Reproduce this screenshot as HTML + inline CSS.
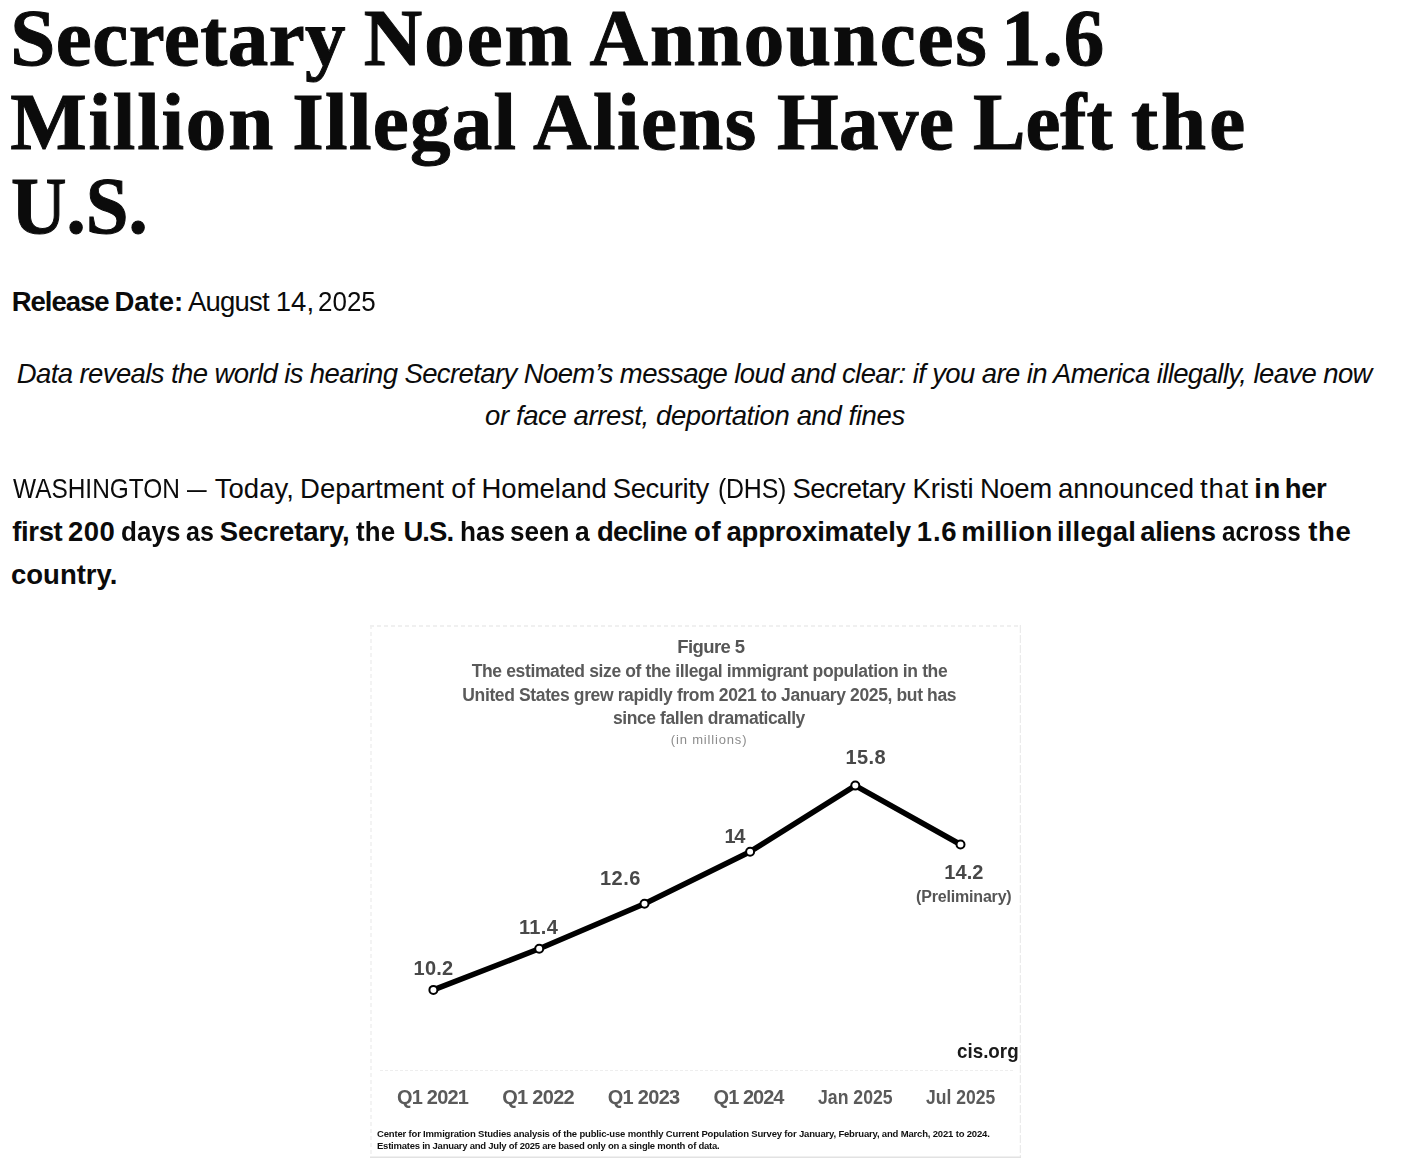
<!DOCTYPE html>
<html><head><meta charset="utf-8">
<style>
html,body{margin:0;padding:0;background:#fff;width:1402px;height:1164px;overflow:hidden;position:relative}
.l{position:absolute;white-space:nowrap}
b{font-weight:bold}
#chart{position:absolute;left:0;top:0;width:1402px;height:1164px;filter:blur(0.35px)}
</style></head><body>
<div class="l" style='left:10.3px;top:-4.2px;font-family:"Liberation Serif",serif;font-weight:bold;font-style:normal;font-size:81px;line-height:84px;letter-spacing:0.5px;color:#0b0b0b;-webkit-text-stroke:1.0px #0b0b0b'>Secretary</div>
<div class="l" style='left:363.8px;top:-4.2px;font-family:"Liberation Serif",serif;font-weight:bold;font-style:normal;font-size:81px;line-height:84px;letter-spacing:1.933px;color:#0b0b0b;-webkit-text-stroke:1.0px #0b0b0b'>Noem</div>
<div class="l" style='left:589.6px;top:-4.2px;font-family:"Liberation Serif",serif;font-weight:bold;font-style:normal;font-size:81px;line-height:84px;letter-spacing:1.825px;color:#0b0b0b;-webkit-text-stroke:1.0px #0b0b0b'>Announces</div>
<div class="l" style='left:1001.1px;top:-4.2px;font-family:"Liberation Serif",serif;font-weight:bold;font-style:normal;font-size:81px;line-height:84px;letter-spacing:0.9px;color:#0b0b0b;-webkit-text-stroke:1.0px #0b0b0b'>1.6</div>
<div class="l" style='left:10.2px;top:79.9px;font-family:"Liberation Serif",serif;font-weight:bold;font-style:normal;font-size:81px;line-height:84px;letter-spacing:1.833px;color:#0b0b0b;-webkit-text-stroke:1.0px #0b0b0b'>Million</div>
<div class="l" style='left:292.3px;top:79.9px;font-family:"Liberation Serif",serif;font-weight:bold;font-style:normal;font-size:81px;line-height:84px;letter-spacing:1.3px;color:#0b0b0b;-webkit-text-stroke:1.0px #0b0b0b'>Illegal</div>
<div class="l" style='left:533.0px;top:79.9px;font-family:"Liberation Serif",serif;font-weight:bold;font-style:normal;font-size:81px;line-height:84px;letter-spacing:1.46px;color:#0b0b0b;-webkit-text-stroke:1.0px #0b0b0b'>Aliens</div>
<div class="l" style='left:776.7px;top:79.9px;font-family:"Liberation Serif",serif;font-weight:bold;font-style:normal;font-size:81px;line-height:84px;letter-spacing:0.333px;color:#0b0b0b;-webkit-text-stroke:1.0px #0b0b0b;transform:scaleX(0.9775);transform-origin:0 0'>Have</div>
<div class="l" style='left:973.0px;top:79.9px;font-family:"Liberation Serif",serif;font-weight:bold;font-style:normal;font-size:81px;line-height:84px;letter-spacing:0.0px;color:#0b0b0b;-webkit-text-stroke:1.0px #0b0b0b;transform:scaleX(0.9699);transform-origin:0 0'>Left</div>
<div class="l" style='left:1131.0px;top:79.9px;font-family:"Liberation Serif",serif;font-weight:bold;font-style:normal;font-size:81px;line-height:84px;letter-spacing:3.15px;color:#0b0b0b;-webkit-text-stroke:1.0px #0b0b0b'>the</div>
<div class="l" style='left:11.4px;top:164.0px;font-family:"Liberation Serif",serif;font-weight:bold;font-style:normal;font-size:81px;line-height:84px;letter-spacing:0.0px;color:#0b0b0b;-webkit-text-stroke:1.0px #0b0b0b;transform:scaleX(0.9493);transform-origin:0 0'>U.S.</div>
<div class="l" style='left:16.8px;top:358.6px;font-family:"Liberation Sans",sans-serif;font-weight:normal;font-style:italic;font-size:27.5px;line-height:30px;letter-spacing:-0.603px;color:#0b0b0b'>Data reveals the world is hearing Secretary Noem’s message loud and clear: if you are in America illegally, leave now</div>
<div class="l" style='left:485.0px;top:400.7px;font-family:"Liberation Sans",sans-serif;font-weight:normal;font-style:italic;font-size:27.5px;line-height:30px;letter-spacing:-0.389px;color:#0b0b0b'>or face arrest, deportation and fines</div>
<div class="l" style='left:11.0px;top:559.9px;font-family:"Liberation Sans",sans-serif;font-weight:bold;font-style:normal;font-size:27.5px;line-height:30px;letter-spacing:0.0px;color:#0b0b0b'>country.</div>
<div class="l" style='left:11.7px;top:286.8px;font-family:"Liberation Sans",sans-serif;font-weight:normal;font-style:normal;font-size:27.5px;line-height:30px;letter-spacing:-1.0px;color:#0b0b0b'><b>Release</b></div>
<div class="l" style='left:114.4px;top:286.8px;font-family:"Liberation Sans",sans-serif;font-weight:normal;font-style:normal;font-size:27.5px;line-height:30px;letter-spacing:0.0px;color:#0b0b0b'><b>Date:</b></div>
<div class="l" style='left:188.0px;top:286.8px;font-family:"Liberation Sans",sans-serif;font-weight:normal;font-style:normal;font-size:27.5px;line-height:30px;letter-spacing:-0.78px;color:#0b0b0b'>August</div>
<div class="l" style='left:275.8px;top:286.8px;font-family:"Liberation Sans",sans-serif;font-weight:normal;font-style:normal;font-size:27.5px;line-height:30px;letter-spacing:0.0px;color:#0b0b0b'>14,</div>
<div class="l" style='left:317.9px;top:286.8px;font-family:"Liberation Sans",sans-serif;font-weight:normal;font-style:normal;font-size:27.5px;line-height:30px;letter-spacing:0.0px;color:#0b0b0b;transform:scaleX(0.9441);transform-origin:0 0'>2025</div>
<div class="l" style='left:12.5px;top:473.8px;font-family:"Liberation Sans",sans-serif;font-weight:normal;font-style:normal;font-size:27.5px;line-height:30px;letter-spacing:0.0px;color:#0b0b0b;transform:scaleX(0.8882);transform-origin:0 0'>WASHINGTON</div>
<div class="l" style='left:187.0px;top:473.8px;font-family:"Liberation Sans",sans-serif;font-weight:normal;font-style:normal;font-size:27.5px;line-height:30px;letter-spacing:0.0px;color:#0b0b0b;transform:scaleX(0.7143);transform-origin:0 0'>—</div>
<div class="l" style='left:214.7px;top:473.8px;font-family:"Liberation Sans",sans-serif;font-weight:normal;font-style:normal;font-size:27.5px;line-height:30px;letter-spacing:0.04px;color:#0b0b0b'>Today,</div>
<div class="l" style='left:300.0px;top:473.8px;font-family:"Liberation Sans",sans-serif;font-weight:normal;font-style:normal;font-size:27.5px;line-height:30px;letter-spacing:0.021px;color:#0b0b0b'>Department</div>
<div class="l" style='left:451.3px;top:473.8px;font-family:"Liberation Sans",sans-serif;font-weight:normal;font-style:normal;font-size:27.5px;line-height:30px;letter-spacing:0.6px;color:#0b0b0b'>of</div>
<div class="l" style='left:481.5px;top:473.8px;font-family:"Liberation Sans",sans-serif;font-weight:normal;font-style:normal;font-size:27.5px;line-height:30px;letter-spacing:0.0px;color:#0b0b0b'>Homeland</div>
<div class="l" style='left:612.7px;top:473.8px;font-family:"Liberation Sans",sans-serif;font-weight:normal;font-style:normal;font-size:27.5px;line-height:30px;letter-spacing:-0.4px;color:#0b0b0b'>Security</div>
<div class="l" style='left:717.6px;top:473.8px;font-family:"Liberation Sans",sans-serif;font-weight:normal;font-style:normal;font-size:27.5px;line-height:30px;letter-spacing:-0.225px;color:#0b0b0b;transform:scaleX(0.9055);transform-origin:0 0'>(DHS)</div>
<div class="l" style='left:792.5px;top:473.8px;font-family:"Liberation Sans",sans-serif;font-weight:normal;font-style:normal;font-size:27.5px;line-height:30px;letter-spacing:-0.588px;color:#0b0b0b'>Secretary</div>
<div class="l" style='left:912.4px;top:473.8px;font-family:"Liberation Sans",sans-serif;font-weight:normal;font-style:normal;font-size:27.5px;line-height:30px;letter-spacing:0.0px;color:#0b0b0b'>Kristi</div>
<div class="l" style='left:979.9px;top:473.8px;font-family:"Liberation Sans",sans-serif;font-weight:normal;font-style:normal;font-size:27.5px;line-height:30px;letter-spacing:-0.4px;color:#0b0b0b'>Noem</div>
<div class="l" style='left:1057.9px;top:473.8px;font-family:"Liberation Sans",sans-serif;font-weight:normal;font-style:normal;font-size:27.5px;line-height:30px;letter-spacing:0.0px;color:#0b0b0b'>announced</div>
<div class="l" style='left:1200.1px;top:473.8px;font-family:"Liberation Sans",sans-serif;font-weight:normal;font-style:normal;font-size:27.5px;line-height:30px;letter-spacing:0.7px;color:#0b0b0b'>that</div>
<div class="l" style='left:1254.3px;top:473.8px;font-family:"Liberation Sans",sans-serif;font-weight:normal;font-style:normal;font-size:27.5px;line-height:30px;letter-spacing:1.6px;color:#0b0b0b'><b>in</b></div>
<div class="l" style='left:1284.8px;top:473.8px;font-family:"Liberation Sans",sans-serif;font-weight:normal;font-style:normal;font-size:27.5px;line-height:30px;letter-spacing:-0.45px;color:#0b0b0b'><b>her</b></div>
<div class="l" style='left:12.2px;top:516.6px;font-family:"Liberation Sans",sans-serif;font-weight:bold;font-style:normal;font-size:27.5px;line-height:30px;letter-spacing:-0.35px;color:#0b0b0b'>first</div>
<div class="l" style='left:68.0px;top:516.6px;font-family:"Liberation Sans",sans-serif;font-weight:bold;font-style:normal;font-size:27.5px;line-height:30px;letter-spacing:0.5px;color:#0b0b0b'>200</div>
<div class="l" style='left:121.0px;top:516.6px;font-family:"Liberation Sans",sans-serif;font-weight:bold;font-style:normal;font-size:27.5px;line-height:30px;letter-spacing:0.033px;color:#0b0b0b;transform:scaleX(0.9459);transform-origin:0 0'>days</div>
<div class="l" style='left:186.0px;top:516.6px;font-family:"Liberation Sans",sans-serif;font-weight:bold;font-style:normal;font-size:27.5px;line-height:30px;letter-spacing:0.2px;color:#0b0b0b;transform:scaleX(0.9103);transform-origin:0 0'>as</div>
<div class="l" style='left:219.8px;top:516.6px;font-family:"Liberation Sans",sans-serif;font-weight:bold;font-style:normal;font-size:27.5px;line-height:30px;letter-spacing:-0.112px;color:#0b0b0b'>Secretary,</div>
<div class="l" style='left:356.3px;top:516.6px;font-family:"Liberation Sans",sans-serif;font-weight:bold;font-style:normal;font-size:27.5px;line-height:30px;letter-spacing:0.25px;color:#0b0b0b;transform:scaleX(0.939);transform-origin:0 0'>the</div>
<div class="l" style='left:403.4px;top:516.6px;font-family:"Liberation Sans",sans-serif;font-weight:bold;font-style:normal;font-size:27.5px;line-height:30px;letter-spacing:-0.933px;color:#0b0b0b'>U.S.</div>
<div class="l" style='left:460.2px;top:516.6px;font-family:"Liberation Sans",sans-serif;font-weight:bold;font-style:normal;font-size:27.5px;line-height:30px;letter-spacing:0.0px;color:#0b0b0b;transform:scaleX(0.95);transform-origin:0 0'>has</div>
<div class="l" style='left:510.3px;top:516.6px;font-family:"Liberation Sans",sans-serif;font-weight:bold;font-style:normal;font-size:27.5px;line-height:30px;letter-spacing:0.0px;color:#0b0b0b;transform:scaleX(0.9467);transform-origin:0 0'>seen</div>
<div class="l" style='left:575.2px;top:516.6px;font-family:"Liberation Sans",sans-serif;font-weight:bold;font-style:normal;font-size:27.5px;line-height:30px;letter-spacing:0.0px;color:#0b0b0b;transform:scaleX(0.96);transform-origin:0 0'>a</div>
<div class="l" style='left:597.0px;top:516.6px;font-family:"Liberation Sans",sans-serif;font-weight:bold;font-style:normal;font-size:27.5px;line-height:30px;letter-spacing:-0.683px;color:#0b0b0b'>decline</div>
<div class="l" style='left:693.9px;top:516.6px;font-family:"Liberation Sans",sans-serif;font-weight:bold;font-style:normal;font-size:27.5px;line-height:30px;letter-spacing:0.7px;color:#0b0b0b'>of</div>
<div class="l" style='left:726.4px;top:516.6px;font-family:"Liberation Sans",sans-serif;font-weight:bold;font-style:normal;font-size:27.5px;line-height:30px;letter-spacing:-0.158px;color:#0b0b0b'>approximately</div>
<div class="l" style='left:916.8px;top:516.6px;font-family:"Liberation Sans",sans-serif;font-weight:bold;font-style:normal;font-size:27.5px;line-height:30px;letter-spacing:0.8px;color:#0b0b0b'>1.6</div>
<div class="l" style='left:961.3px;top:516.6px;font-family:"Liberation Sans",sans-serif;font-weight:bold;font-style:normal;font-size:27.5px;line-height:30px;letter-spacing:0.383px;color:#0b0b0b'>million</div>
<div class="l" style='left:1057.0px;top:516.6px;font-family:"Liberation Sans",sans-serif;font-weight:bold;font-style:normal;font-size:27.5px;line-height:30px;letter-spacing:0.167px;color:#0b0b0b'>illegal</div>
<div class="l" style='left:1140.3px;top:516.6px;font-family:"Liberation Sans",sans-serif;font-weight:bold;font-style:normal;font-size:27.5px;line-height:30px;letter-spacing:-0.46px;color:#0b0b0b'>aliens</div>
<div class="l" style='left:1222.0px;top:516.6px;font-family:"Liberation Sans",sans-serif;font-weight:bold;font-style:normal;font-size:27.5px;line-height:30px;letter-spacing:0.16px;color:#0b0b0b;transform:scaleX(0.8805);transform-origin:0 0'>across</div>
<div class="l" style='left:1308.2px;top:516.6px;font-family:"Liberation Sans",sans-serif;font-weight:bold;font-style:normal;font-size:27.5px;line-height:30px;letter-spacing:0.7px;color:#0b0b0b'>the</div>
<div id="chart">
<svg style="position:absolute;left:370px;top:625px" width="651" height="533" viewBox="370 625 651 533">
<rect x="370" y="625" width="651" height="533" fill="#fff"/>
<line x1="370" y1="626" x2="1021" y2="626" stroke="#ececec" stroke-width="1.5" stroke-dasharray="4 3"/>
<line x1="371" y1="625" x2="371" y2="1158" stroke="#efefef" stroke-width="1.5" stroke-dasharray="4 3"/>
<line x1="1020.5" y1="625" x2="1020.5" y2="1158" stroke="#ebebeb" stroke-width="1.5" stroke-dasharray="8 2"/>
<line x1="370" y1="1157.3" x2="1021" y2="1157.3" stroke="#e2e2e2" stroke-width="1.5"/>
<line x1="380" y1="1070.5" x2="1015" y2="1070.5" stroke="#eeeeee" stroke-width="1" stroke-dasharray="3 2"/>
<polyline points="433.4,989.9 539.2,948.8 644.5,903.8 750.1,851.7 855.3,785.6 960.5,844.5" fill="none" stroke="#000" stroke-width="5.5" stroke-linejoin="round"/>
<circle cx="433.4" cy="989.9" r="4" fill="#fff" stroke="#000" stroke-width="2"/><circle cx="539.2" cy="948.8" r="4" fill="#fff" stroke="#000" stroke-width="2"/><circle cx="644.5" cy="903.8" r="4" fill="#fff" stroke="#000" stroke-width="2"/><circle cx="750.1" cy="851.7" r="4" fill="#fff" stroke="#000" stroke-width="2"/><circle cx="855.3" cy="785.6" r="4" fill="#fff" stroke="#000" stroke-width="2"/><circle cx="960.5" cy="844.5" r="4" fill="#fff" stroke="#000" stroke-width="2"/>
</svg>
<div class="l" style='left:677.2px;top:637.2px;font-family:"Liberation Sans",sans-serif;font-weight:bold;font-style:normal;font-size:18.5px;line-height:20px;letter-spacing:-0.571px;color:#555'>Figure 5</div>
<div class="l" style='left:471.7px;top:660.8px;font-family:"Liberation Sans",sans-serif;font-weight:bold;font-style:normal;font-size:17.5px;line-height:20px;letter-spacing:-0.364px;color:#5a5a5a'>The estimated size of the illegal immigrant population in the</div>
<div class="l" style='left:462.3px;top:684.5px;font-family:"Liberation Sans",sans-serif;font-weight:bold;font-style:normal;font-size:17.5px;line-height:20px;letter-spacing:-0.37px;color:#5a5a5a'>United States grew rapidly from 2021 to January 2025, but has</div>
<div class="l" style='left:613.0px;top:708.0px;font-family:"Liberation Sans",sans-serif;font-weight:bold;font-style:normal;font-size:17.5px;line-height:20px;letter-spacing:-0.417px;color:#5a5a5a'>since fallen dramatically</div>
<div class="l" style='left:670.8px;top:732.3px;font-family:"Liberation Sans",sans-serif;font-weight:normal;font-style:normal;font-size:13px;line-height:15px;letter-spacing:0.833px;color:#8c8c8c'>(in millions)</div>
<div class="l" style='left:413.6px;top:956.9px;font-family:"Liberation Sans",sans-serif;font-weight:bold;font-style:normal;font-size:20px;line-height:22px;letter-spacing:0.2px;color:#484848'>10.2</div>
<div class="l" style='left:519.0px;top:915.6px;font-family:"Liberation Sans",sans-serif;font-weight:bold;font-style:normal;font-size:20px;line-height:22px;letter-spacing:0.333px;color:#484848'>11.4</div>
<div class="l" style='left:600.0px;top:867.0px;font-family:"Liberation Sans",sans-serif;font-weight:bold;font-style:normal;font-size:20px;line-height:22px;letter-spacing:0.467px;color:#484848'>12.6</div>
<div class="l" style='left:724.6px;top:825.0px;font-family:"Liberation Sans",sans-serif;font-weight:bold;font-style:normal;font-size:20px;line-height:22px;letter-spacing:-1.4px;color:#484848'>14</div>
<div class="l" style='left:845.4px;top:746.2px;font-family:"Liberation Sans",sans-serif;font-weight:bold;font-style:normal;font-size:20px;line-height:22px;letter-spacing:0.467px;color:#484848'>15.8</div>
<div class="l" style='left:944.3px;top:861.3px;font-family:"Liberation Sans",sans-serif;font-weight:bold;font-style:normal;font-size:20px;line-height:22px;letter-spacing:0.067px;color:#484848'>14.2</div>
<div class="l" style='left:916.1px;top:888.1px;font-family:"Liberation Sans",sans-serif;font-weight:bold;font-style:normal;font-size:16px;line-height:18px;letter-spacing:-0.184px;color:#555'>(Preliminary)</div>
<div class="l" style='left:956.5px;top:1039.2px;font-family:"Liberation Sans",sans-serif;font-weight:bold;font-style:normal;font-size:21px;line-height:24px;letter-spacing:0.0px;color:#1a1a1a;transform:scaleX(0.8955);transform-origin:0 0'>cis.org</div>
<div class="l" style='left:397.0px;top:1086.4px;font-family:"Liberation Sans",sans-serif;font-weight:bold;font-style:normal;font-size:20px;line-height:22px;letter-spacing:-0.8px;color:#5a5a5a'>Q1 2021</div>
<div class="l" style='left:502.2px;top:1086.4px;font-family:"Liberation Sans",sans-serif;font-weight:bold;font-style:normal;font-size:20px;line-height:22px;letter-spacing:-0.7px;color:#5a5a5a'>Q1 2022</div>
<div class="l" style='left:607.7px;top:1086.4px;font-family:"Liberation Sans",sans-serif;font-weight:bold;font-style:normal;font-size:20px;line-height:22px;letter-spacing:-0.7px;color:#5a5a5a'>Q1 2023</div>
<div class="l" style='left:713.6px;top:1086.4px;font-family:"Liberation Sans",sans-serif;font-weight:bold;font-style:normal;font-size:20px;line-height:22px;letter-spacing:-0.983px;color:#5a5a5a'>Q1 2024</div>
<div class="l" style='left:817.7px;top:1086.4px;font-family:"Liberation Sans",sans-serif;font-weight:bold;font-style:normal;font-size:20px;line-height:22px;letter-spacing:0.0px;color:#5a5a5a;transform:scaleX(0.8833);transform-origin:0 0'>Jan 2025</div>
<div class="l" style='left:925.5px;top:1086.4px;font-family:"Liberation Sans",sans-serif;font-weight:bold;font-style:normal;font-size:20px;line-height:22px;letter-spacing:0.0px;color:#5a5a5a;transform:scaleX(0.8759);transform-origin:0 0'>Jul 2025</div>
<div class="l" style='left:377.0px;top:1127.6px;font-family:"Liberation Sans",sans-serif;font-weight:bold;font-style:normal;font-size:9.5px;line-height:11px;letter-spacing:-0.174px;color:#111'>Center for Immigration Studies analysis of the public-use monthly Current Population Survey for January, February, and March, 2021 to 2024.</div>
<div class="l" style='left:377.0px;top:1140.4px;font-family:"Liberation Sans",sans-serif;font-weight:bold;font-style:normal;font-size:9.5px;line-height:11px;letter-spacing:-0.236px;color:#111'>Estimates in January and July of 2025 are based only on a single month of data.</div>
</div>
</body></html>
